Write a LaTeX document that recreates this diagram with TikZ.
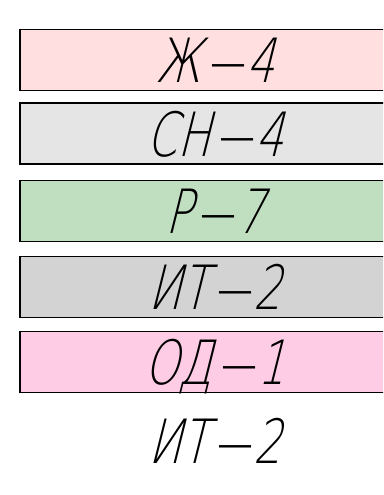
\documentclass[tikz,border=0pt]{standalone}
\usepackage{fontspec}
\setmainfont{DejaVu Sans ExtraLight}[FakeSlant=0.25,FakeStretch=0.72]
\newfontfamily\hyfont{DejaVu Sans ExtraLight}[FakeStretch=2.0]
\newcommand\lhy{\kern5pt{\hyfont -}\kern-4pt}
\definecolor{cpinkA}{HTML}{FFDFDF}
\definecolor{cgrayA}{HTML}{E5E5E5}
\definecolor{cgreen}{HTML}{C0DFC0}
\definecolor{cgrayB}{HTML}{D3D3D3}
\definecolor{cpinkB}{HTML}{FFCCE6}
\begin{document}
\begin{tikzpicture}[x=1pt,y=1pt,
  lbl/.style={inner sep=0pt, text height=45pt, text depth=0pt,
    font=\fontsize{61}{61}\selectfont},
  bar/.style={lbl, draw=black, line width=1.3pt, minimum width=390pt, minimum height=61pt}]
\useasboundingbox (0,0) rectangle (383,-495);
\clip (0,0) rectangle (383,-495);
\node[bar, fill=cpinkA] (b1) at (215,-60) {Ж\lhy4};
\node[bar, fill=cgrayA] (b2) at (215,-133.5) {СН\lhy4};
\node[bar, fill=cgreen] (b3) at (215,-211.2) {Р\lhy7};
\node[bar, fill=cgrayB] (b4) at (215,-286.7) {ИТ\lhy2};
\node[bar, fill=cpinkB] (b5) at (215,-362.2) {ОД\lhy1};
\node[lbl] (t6) at (215,-440.5) {ИТ\lhy2};
\end{tikzpicture}
\end{document}
